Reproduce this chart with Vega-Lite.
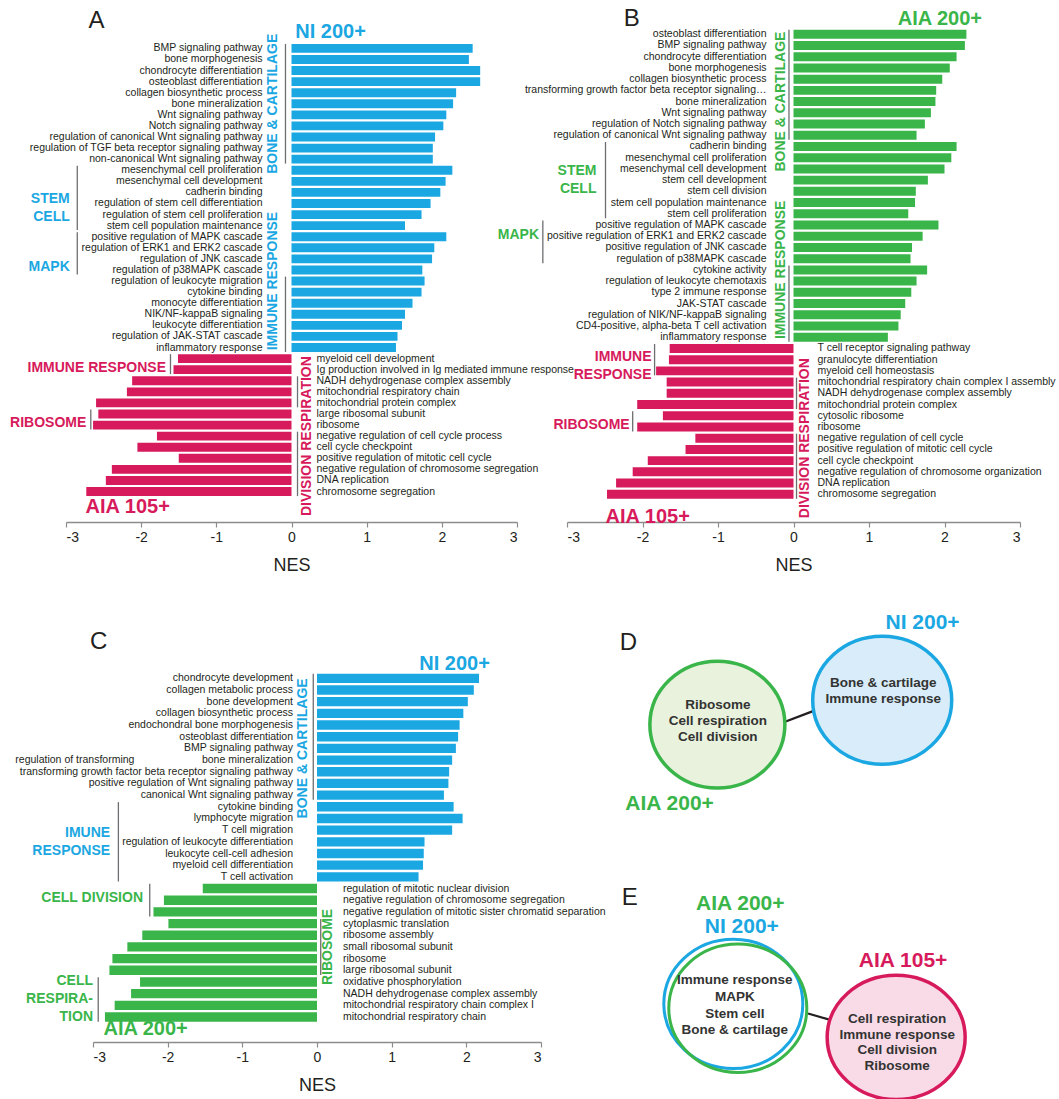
{
"$schema":"https://vega.github.io/schema/vega-lite/v6.json",
"background":"white",
"padding":{"left":10,"top":7,"right":0,"bottom":0},
"config":{"view":{"stroke":null},"font":"Liberation Sans","axisY":{"disable":true},
 "axis":{"domainColor":"#8c8c8c","domainWidth":1.5,"tickColor":"#8c8c8c","tickSize":5,"tickWidth":1.2,"labelFontSize":14,"labelColor":"#231f20","titleFontSize":18,"titleFontWeight":"normal","titleColor":"#231f20","grid":false,"labelPadding":3,"titlePadding":12}},
"datasets":{
"A":[
{"i":1,"term":"BMP signaling pathway","nes":2.41,"set":"NI 200+"},
{"i":2,"term":"bone morphogenesis","nes":2.36,"set":"NI 200+"},
{"i":3,"term":"chondrocyte differentiation","nes":2.51,"set":"NI 200+"},
{"i":4,"term":"osteoblast differentiation","nes":2.51,"set":"NI 200+"},
{"i":5,"term":"collagen biosynthetic process","nes":2.19,"set":"NI 200+"},
{"i":6,"term":"bone mineralization","nes":2.15,"set":"NI 200+"},
{"i":7,"term":"Wnt signaling pathway","nes":2.06,"set":"NI 200+"},
{"i":8,"term":"Notch signaling pathway","nes":2.02,"set":"NI 200+"},
{"i":9,"term":"regulation of canonical Wnt signaling pathway","nes":1.91,"set":"NI 200+"},
{"i":10,"term":"regulation of TGF beta receptor signaling pathway","nes":1.88,"set":"NI 200+"},
{"i":11,"term":"non-canonical Wnt signaling pathway","nes":1.88,"set":"NI 200+"},
{"i":12,"term":"mesenchymal cell proliferation","nes":2.14,"set":"NI 200+"},
{"i":13,"term":"mesenchymal cell development","nes":2.05,"set":"NI 200+"},
{"i":14,"term":"cadherin binding","nes":1.98,"set":"NI 200+"},
{"i":15,"term":"regulation of stem cell differentiation","nes":1.85,"set":"NI 200+"},
{"i":16,"term":"regulation of stem cell proliferation","nes":1.73,"set":"NI 200+"},
{"i":17,"term":"stem cell population maintenance","nes":1.51,"set":"NI 200+"},
{"i":18,"term":"positive regulation of MAPK cascade","nes":2.06,"set":"NI 200+"},
{"i":19,"term":"regulation of ERK1 and ERK2 cascade","nes":1.90,"set":"NI 200+"},
{"i":20,"term":"regulation of JNK cascade","nes":1.87,"set":"NI 200+"},
{"i":21,"term":"regulation of p38MAPK cascade","nes":1.74,"set":"NI 200+"},
{"i":22,"term":"regulation of leukocyte migration","nes":1.77,"set":"NI 200+"},
{"i":23,"term":"cytokine binding","nes":1.73,"set":"NI 200+"},
{"i":24,"term":"monocyte differentiation","nes":1.61,"set":"NI 200+"},
{"i":25,"term":"NIK/NF-kappaB signaling","nes":1.51,"set":"NI 200+"},
{"i":26,"term":"leukocyte differentiation","nes":1.47,"set":"NI 200+"},
{"i":27,"term":"regulation of JAK-STAT cascade","nes":1.41,"set":"NI 200+"},
{"i":28,"term":"inflammatory response","nes":1.39,"set":"NI 200+"},
{"i":29,"term":"myeloid cell development","nes":-1.51,"set":"AIA 105+"},
{"i":30,"term":"Ig production involved in Ig mediated immune response","nes":-1.57,"set":"AIA 105+"},
{"i":31,"term":"NADH dehydrogenase complex assembly","nes":-2.12,"set":"AIA 105+"},
{"i":32,"term":"mitochondrial respiratory chain","nes":-2.19,"set":"AIA 105+"},
{"i":33,"term":"mitochondrial protein complex","nes":-2.60,"set":"AIA 105+"},
{"i":34,"term":"large ribosomal subunit","nes":-2.57,"set":"AIA 105+"},
{"i":35,"term":"ribosome","nes":-2.64,"set":"AIA 105+"},
{"i":36,"term":"negative regulation of cell cycle process","nes":-1.79,"set":"AIA 105+"},
{"i":37,"term":"cell cycle checkpoint","nes":-2.05,"set":"AIA 105+"},
{"i":38,"term":"positive regulation of mitotic cell cycle","nes":-1.50,"set":"AIA 105+"},
{"i":39,"term":"negative regulation of chromosome segregation","nes":-2.39,"set":"AIA 105+"},
{"i":40,"term":"DNA replication","nes":-2.47,"set":"AIA 105+"},
{"i":41,"term":"chromosome segregation","nes":-2.73,"set":"AIA 105+"}
],
"B":[
{"i":1,"term":"osteoblast differentiation","nes":2.29,"set":"AIA 200+"},
{"i":2,"term":"BMP signaling pathway","nes":2.27,"set":"AIA 200+"},
{"i":3,"term":"chondrocyte differentiation","nes":2.16,"set":"AIA 200+"},
{"i":4,"term":"bone morphogenesis","nes":2.07,"set":"AIA 200+"},
{"i":5,"term":"collagen biosynthetic process","nes":1.97,"set":"AIA 200+"},
{"i":6,"term":"transforming growth factor beta receptor signaling…","nes":1.89,"set":"AIA 200+"},
{"i":7,"term":"bone mineralization","nes":1.88,"set":"AIA 200+"},
{"i":8,"term":"Wnt signaling pathway","nes":1.82,"set":"AIA 200+"},
{"i":9,"term":"regulation of Notch signaling pathway","nes":1.74,"set":"AIA 200+"},
{"i":10,"term":"regulation of canonical Wnt signaling pathway","nes":1.63,"set":"AIA 200+"},
{"i":11,"term":"cadherin binding","nes":2.16,"set":"AIA 200+"},
{"i":12,"term":"mesenchymal cell proliferation","nes":2.09,"set":"AIA 200+"},
{"i":13,"term":"mesenchymal cell development","nes":2.00,"set":"AIA 200+"},
{"i":14,"term":"stem cell development","nes":1.78,"set":"AIA 200+"},
{"i":15,"term":"stem cell division","nes":1.62,"set":"AIA 200+"},
{"i":16,"term":"stem cell population maintenance","nes":1.61,"set":"AIA 200+"},
{"i":17,"term":"stem cell proliferation","nes":1.52,"set":"AIA 200+"},
{"i":18,"term":"positive regulation of MAPK cascade","nes":1.92,"set":"AIA 200+"},
{"i":19,"term":"positive regulation of ERK1 and ERK2 cascade","nes":1.71,"set":"AIA 200+"},
{"i":20,"term":"positive regulation of JNK cascade","nes":1.57,"set":"AIA 200+"},
{"i":21,"term":"regulation of p38MAPK cascade","nes":1.55,"set":"AIA 200+"},
{"i":22,"term":"cytokine activity","nes":1.77,"set":"AIA 200+"},
{"i":23,"term":"regulation of leukocyte chemotaxis","nes":1.63,"set":"AIA 200+"},
{"i":24,"term":"type 2 immune response","nes":1.56,"set":"AIA 200+"},
{"i":25,"term":"JAK-STAT cascade","nes":1.48,"set":"AIA 200+"},
{"i":26,"term":"regulation of NIK/NF-kappaB signaling","nes":1.42,"set":"AIA 200+"},
{"i":27,"term":"CD4-positive, alpha-beta T cell activation","nes":1.39,"set":"AIA 200+"},
{"i":28,"term":"inflammatory response","nes":1.25,"set":"AIA 200+"},
{"i":29,"term":"T cell receptor signaling pathway","nes":-1.64,"set":"AIA 105+"},
{"i":30,"term":"granulocyte differentiation","nes":-1.65,"set":"AIA 105+"},
{"i":31,"term":"myeloid cell homeostasis","nes":-1.82,"set":"AIA 105+"},
{"i":32,"term":"mitochondrial respiratory chain complex I assembly","nes":-1.68,"set":"AIA 105+"},
{"i":33,"term":"NADH dehydrogenase complex assembly","nes":-1.68,"set":"AIA 105+"},
{"i":34,"term":"mitochondrial protein complex","nes":-2.07,"set":"AIA 105+"},
{"i":35,"term":"cytosolic ribosome","nes":-1.73,"set":"AIA 105+"},
{"i":36,"term":"ribosome","nes":-2.07,"set":"AIA 105+"},
{"i":37,"term":"negative regulation of cell cycle","nes":-1.30,"set":"AIA 105+"},
{"i":38,"term":"positive regulation of mitotic cell cycle","nes":-1.43,"set":"AIA 105+"},
{"i":39,"term":"cell cycle checkpoint","nes":-1.93,"set":"AIA 105+"},
{"i":40,"term":"negative regulation of chromosome organization","nes":-2.13,"set":"AIA 105+"},
{"i":41,"term":"DNA replication","nes":-2.35,"set":"AIA 105+"},
{"i":42,"term":"chromosome segregation","nes":-2.47,"set":"AIA 105+"}
],
"C":[
{"i":1,"term":"chondrocyte development","nes":2.17,"set":"NI 200+"},
{"i":2,"term":"collagen metabolic process","nes":2.10,"set":"NI 200+"},
{"i":3,"term":"bone development","nes":2.02,"set":"NI 200+"},
{"i":4,"term":"collagen biosynthetic process","nes":1.96,"set":"NI 200+"},
{"i":5,"term":"endochondral bone morphogenesis","nes":1.91,"set":"NI 200+"},
{"i":6,"term":"osteoblast differentiation","nes":1.89,"set":"NI 200+"},
{"i":7,"term":"BMP signaling pathway","nes":1.86,"set":"NI 200+"},
{"i":8,"term":"bone mineralization","nes":1.81,"set":"NI 200+"},
{"i":9,"term":"transforming growth factor beta receptor signaling pathway","nes":1.77,"set":"NI 200+"},
{"i":10,"term":"positive regulation of Wnt signaling pathway","nes":1.76,"set":"NI 200+"},
{"i":11,"term":"canonical Wnt signaling pathway","nes":1.70,"set":"NI 200+"},
{"i":12,"term":"cytokine binding","nes":1.83,"set":"NI 200+"},
{"i":13,"term":"lymphocyte migration","nes":1.95,"set":"NI 200+"},
{"i":14,"term":"T cell migration","nes":1.81,"set":"NI 200+"},
{"i":15,"term":"regulation of leukocyte differentiation","nes":1.44,"set":"NI 200+"},
{"i":16,"term":"leukocyte cell-cell adhesion","nes":1.43,"set":"NI 200+"},
{"i":17,"term":"myeloid cell differentiation","nes":1.42,"set":"NI 200+"},
{"i":18,"term":"T cell activation","nes":1.36,"set":"NI 200+"},
{"i":19,"term":"regulation of mitotic nuclear division","nes":-1.53,"set":"AIA 200+"},
{"i":20,"term":"negative regulation of chromosome segregation","nes":-2.05,"set":"AIA 200+"},
{"i":21,"term":"negative regulation of mitotic sister chromatid separation","nes":-2.19,"set":"AIA 200+"},
{"i":22,"term":"cytoplasmic translation","nes":-1.99,"set":"AIA 200+"},
{"i":23,"term":"ribosome assembly","nes":-2.34,"set":"AIA 200+"},
{"i":24,"term":"small ribosomal subunit","nes":-2.54,"set":"AIA 200+"},
{"i":25,"term":"ribosome","nes":-2.74,"set":"AIA 200+"},
{"i":26,"term":"large ribosomal subunit","nes":-2.78,"set":"AIA 200+"},
{"i":27,"term":"oxidative phosphorylation","nes":-2.37,"set":"AIA 200+"},
{"i":28,"term":"NADH dehydrogenase complex assembly","nes":-2.49,"set":"AIA 200+"},
{"i":29,"term":"mitochondrial respiratory chain complex I","nes":-2.71,"set":"AIA 200+"},
{"i":30,"term":"mitochondrial respiratory chain","nes":-2.84,"set":"AIA 200+"}
]
},
"spacing":37,
"vconcat":[
{"hconcat":[
 {"width":451,"height":493,"data":{"name":"A"},
  "layer":[
   {"mark":{"type":"bar"},"encoding":{
     "y":{"field":"i","type":"ordinal","scale":{"domain":[0,1,2,3,4,5,6,7,8,9,10,11,12,13,14,15,16,17,18,19,20,21,22,23,24,25,26,27,28,29,30,31,32,33,34,35,36,37,38,39,40,41,42,43],"paddingInner":0.2,"paddingOuter":0.35},"axis":null},
     "x":{"field":"nes","type":"quantitative","scale":{"domain":[-3,3],"nice":false},"axis":{"values":[-3,-2,-1,0,1,2,3],"title":"NES","labelExpr":"'' + datum.value"}},
     "color":{"field":"set","type":"nominal","scale":{"domain":["NI 200+","AIA 200+","AIA 105+"],"range":["#1ba7e2","#3ab54a","#d71a5b"]},"legend":null}}},
   {"transform":[{"filter":"datum.nes > 0"}],"mark":{"type":"text","align":"right","baseline":"middle","dx":-29,"fontSize":10.5,"color":"#231f20"},"encoding":{"y":{"field":"i","type":"ordinal"},"x":{"datum":0,"type":"quantitative"},"text":{"field":"term"}}},
   {"transform":[{"filter":"datum.nes < 0"}],"mark":{"type":"text","align":"left","baseline":"middle","dx":25,"fontSize":10.5,"color":"#231f20"},"encoding":{"y":{"field":"i","type":"ordinal"},"x":{"datum":0,"type":"quantitative"},"text":{"field":"term"}}},
   {"data":{"values":[{}]},"mark":{"type":"text","text":"A","align":"left","baseline":"middle","dy":-16,"fontSize":24,"color":"#231f20"},"encoding":{"x":{"datum":-2.7,"type":"quantitative"},"y":{"datum":0,"type":"ordinal"}}},
   {"data":{"values":[{}]},"mark":{"type":"text","text":"NI 200+","align":"left","baseline":"middle","dy":-16,"fontSize":20,"fontWeight":"bold","color":"#1ba7e2"},"encoding":{"x":{"datum":0.05,"type":"quantitative"},"y":{"datum":1,"type":"ordinal"}}},
   {"data":{"values":[{}]},"mark":{"type":"text","text":"BONE & CARTILAGE","angle":270,"align":"center","baseline":"middle","fontSize":14,"fontWeight":"bold","color":"#1ba7e2"},"encoding":{"x":{"datum":-0.25,"type":"quantitative"},"y":{"datum":6,"type":"ordinal"}}},
   {"data":{"values":[{}]},"mark":{"type":"rule","color":"#6d6e71","strokeWidth":1.3},"encoding":{"x":{"datum":-0.08,"type":"quantitative"},"y":{"datum":1,"type":"ordinal","bandPosition":0},"y2":{"datum":11,"bandPosition":1}}},
   {"data":{"values":[{}]},"mark":{"type":"text","text":"IMMUNE RESPONSE","angle":270,"align":"center","baseline":"middle","fontSize":14,"fontWeight":"bold","color":"#1ba7e2"},"encoding":{"x":{"datum":-0.25,"type":"quantitative"},"y":{"datum":22,"type":"ordinal"}}},
   {"data":{"values":[{}]},"mark":{"type":"rule","color":"#6d6e71","strokeWidth":1.3},"encoding":{"x":{"datum":-0.08,"type":"quantitative"},"y":{"datum":22,"type":"ordinal","bandPosition":0},"y2":{"datum":28,"bandPosition":1}}},
   {"data":{"values":[{}]},"mark":{"type":"text","text":["STEM","CELL"],"align":"right","baseline":"middle","lineHeight":18,"dy":-4,"fontSize":14,"fontWeight":"bold","color":"#1ba7e2"},"encoding":{"x":{"datum":-2.95,"type":"quantitative"},"y":{"datum":15,"type":"ordinal"}}},
   {"data":{"values":[{}]},"mark":{"type":"rule","color":"#6d6e71","strokeWidth":1.3},"encoding":{"x":{"datum":-2.85,"type":"quantitative"},"y":{"datum":12,"type":"ordinal","bandPosition":0},"y2":{"datum":17,"bandPosition":1}}},
   {"data":{"values":[{}]},"mark":{"type":"text","text":"MAPK","align":"right","baseline":"middle","dy":-3,"fontSize":14,"fontWeight":"bold","color":"#1ba7e2"},"encoding":{"x":{"datum":-2.95,"type":"quantitative"},"y":{"datum":21,"type":"ordinal"}}},
   {"data":{"values":[{}]},"mark":{"type":"rule","color":"#6d6e71","strokeWidth":1.3},"encoding":{"x":{"datum":-2.85,"type":"quantitative"},"y":{"datum":18,"type":"ordinal","bandPosition":0},"y2":{"datum":21,"bandPosition":1}}},
   {"data":{"values":[{}]},"mark":{"type":"text","text":"IMMUNE RESPONSE","align":"right","baseline":"middle","dy":-2,"fontSize":14,"fontWeight":"bold","color":"#d71a5b"},"encoding":{"x":{"datum":-1.67,"type":"quantitative"},"y":{"datum":30,"type":"ordinal"}}},
   {"data":{"values":[{}]},"mark":{"type":"rule","color":"#6d6e71","strokeWidth":1.3},"encoding":{"x":{"datum":-1.61,"type":"quantitative"},"y":{"datum":29,"type":"ordinal","bandPosition":0},"y2":{"datum":30,"bandPosition":1}}},
   {"data":{"values":[{}]},"mark":{"type":"text","text":"RIBOSOME","align":"right","baseline":"middle","dy":-2,"fontSize":14,"fontWeight":"bold","color":"#d71a5b"},"encoding":{"x":{"datum":-2.73,"type":"quantitative"},"y":{"datum":35,"type":"ordinal"}}},
   {"data":{"values":[{}]},"mark":{"type":"rule","color":"#6d6e71","strokeWidth":1.3},"encoding":{"x":{"datum":-2.67,"type":"quantitative"},"y":{"datum":34,"type":"ordinal","bandPosition":0},"y2":{"datum":35,"bandPosition":1}}},
   {"data":{"values":[{}]},"mark":{"type":"text","text":"DIVISION RESPIRATION","angle":270,"align":"center","baseline":"middle","fontSize":14,"fontWeight":"bold","color":"#d71a5b"},"encoding":{"x":{"datum":0.21,"type":"quantitative"},"y":{"datum":36,"type":"ordinal"}}},
   {"data":{"values":[{}]},"mark":{"type":"rule","color":"#6d6e71","strokeWidth":1.3},"encoding":{"x":{"datum":0.08,"type":"quantitative"},"y":{"datum":31,"type":"ordinal","bandPosition":0},"y2":{"datum":33,"bandPosition":1}}},
   {"data":{"values":[{}]},"mark":{"type":"rule","color":"#6d6e71","strokeWidth":1.3},"encoding":{"x":{"datum":0.08,"type":"quantitative"},"y":{"datum":36,"type":"ordinal","bandPosition":0},"y2":{"datum":41,"bandPosition":1}}},
   {"data":{"values":[{}]},"mark":{"type":"text","text":"AIA 105+","align":"left","baseline":"middle","dy":4,"fontSize":20,"fontWeight":"bold","color":"#d71a5b"},"encoding":{"x":{"datum":-2.74,"type":"quantitative"},"y":{"datum":42,"type":"ordinal"}}}
  ]},
 {"width":453,"height":493,"data":{"name":"B"},
  "layer":[
   {"mark":{"type":"bar"},"encoding":{
     "y":{"field":"i","type":"ordinal","scale":{"domain":[1,2,3,4,5,6,7,8,9,10,11,12,13,14,15,16,17,18,19,20,21,22,23,24,25,26,27,28,29,30,31,32,33,34,35,36,37,38,39,40,41,42,43,44],"paddingInner":0.2,"paddingOuter":0.07},"axis":null},
     "x":{"field":"nes","type":"quantitative","scale":{"domain":[-3,3],"nice":false},"axis":{"values":[-3,-2,-1,0,1,2,3],"title":"NES","labelExpr":"'' + datum.value"}},
     "color":{"field":"set","type":"nominal","scale":{"domain":["NI 200+","AIA 200+","AIA 105+"],"range":["#1ba7e2","#3ab54a","#d71a5b"]},"legend":null}}},
   {"transform":[{"filter":"datum.nes > 0"}],"mark":{"type":"text","align":"right","baseline":"middle","dx":-27,"fontSize":10.5,"color":"#231f20"},"encoding":{"y":{"field":"i","type":"ordinal"},"x":{"datum":0,"type":"quantitative"},"text":{"field":"term"}}},
   {"transform":[{"filter":"datum.nes < 0"}],"mark":{"type":"text","align":"left","baseline":"middle","dx":24,"fontSize":10.5,"color":"#231f20"},"encoding":{"y":{"field":"i","type":"ordinal"},"x":{"datum":0,"type":"quantitative"},"text":{"field":"term"}}},
   {"data":{"values":[{}]},"mark":{"type":"text","text":"B","align":"left","baseline":"middle","dy":-15,"fontSize":24,"color":"#231f20"},"encoding":{"x":{"datum":-2.25,"type":"quantitative"},"y":{"datum":1,"type":"ordinal"}}},
   {"data":{"values":[{}]},"mark":{"type":"text","text":"AIA 200+","align":"left","baseline":"middle","dy":-15,"fontSize":20,"fontWeight":"bold","color":"#3ab54a"},"encoding":{"x":{"datum":1.38,"type":"quantitative"},"y":{"datum":1,"type":"ordinal"}}},
   {"data":{"values":[{}]},"mark":{"type":"text","text":"BONE & CARTILAGE","angle":270,"align":"center","baseline":"middle","fontSize":14,"fontWeight":"bold","color":"#3ab54a"},"encoding":{"x":{"datum":-0.17,"type":"quantitative"},"y":{"datum":7,"type":"ordinal"}}},
   {"data":{"values":[{}]},"mark":{"type":"rule","color":"#6d6e71","strokeWidth":1.3},"encoding":{"x":{"datum":-0.06,"type":"quantitative"},"y":{"datum":1,"type":"ordinal","bandPosition":0},"y2":{"datum":10,"bandPosition":1}}},
   {"data":{"values":[{}]},"mark":{"type":"text","text":"IMMUNE RESPONSE","angle":270,"align":"center","baseline":"middle","fontSize":14,"fontWeight":"bold","color":"#3ab54a"},"encoding":{"x":{"datum":-0.17,"type":"quantitative"},"y":{"datum":22,"type":"ordinal"}}},
   {"data":{"values":[{}]},"mark":{"type":"rule","color":"#6d6e71","strokeWidth":1.3},"encoding":{"x":{"datum":-0.06,"type":"quantitative"},"y":{"datum":22,"type":"ordinal","bandPosition":0},"y2":{"datum":28,"bandPosition":1}}},
   {"data":{"values":[{}]},"mark":{"type":"text","text":["STEM","CELL"],"align":"right","baseline":"middle","lineHeight":18,"dy":-9,"fontSize":14,"fontWeight":"bold","color":"#3ab54a"},"encoding":{"x":{"datum":-2.61,"type":"quantitative"},"y":{"datum":14,"type":"ordinal"}}},
   {"data":{"values":[{}]},"mark":{"type":"rule","color":"#6d6e71","strokeWidth":1.3},"encoding":{"x":{"datum":-2.49,"type":"quantitative"},"y":{"datum":11,"type":"ordinal","bandPosition":0},"y2":{"datum":17,"bandPosition":1}}},
   {"data":{"values":[{}]},"mark":{"type":"text","text":"MAPK","align":"right","baseline":"middle","dy":-1,"fontSize":14,"fontWeight":"bold","color":"#3ab54a"},"encoding":{"x":{"datum":-3.37,"type":"quantitative"},"y":{"datum":19,"type":"ordinal"}}},
   {"data":{"values":[{}]},"mark":{"type":"rule","color":"#6d6e71","strokeWidth":1.3},"encoding":{"x":{"datum":-3.32,"type":"quantitative"},"y":{"datum":18,"type":"ordinal","bandPosition":0},"y2":{"datum":21,"bandPosition":1}}},
   {"data":{"values":[{}]},"mark":{"type":"text","text":["IMMUNE","RESPONSE"],"align":"right","baseline":"middle","lineHeight":18,"dy":-3,"fontSize":14,"fontWeight":"bold","color":"#d71a5b"},"encoding":{"x":{"datum":-1.88,"type":"quantitative"},"y":{"datum":30,"type":"ordinal"}}},
   {"data":{"values":[{}]},"mark":{"type":"rule","color":"#6d6e71","strokeWidth":1.3},"encoding":{"x":{"datum":-1.84,"type":"quantitative"},"y":{"datum":29,"type":"ordinal","bandPosition":0},"y2":{"datum":31,"bandPosition":1}}},
   {"data":{"values":[{}]},"mark":{"type":"text","text":"RIBOSOME","align":"right","baseline":"middle","dy":-2,"fontSize":14,"fontWeight":"bold","color":"#d71a5b"},"encoding":{"x":{"datum":-2.17,"type":"quantitative"},"y":{"datum":36,"type":"ordinal"}}},
   {"data":{"values":[{}]},"mark":{"type":"rule","color":"#6d6e71","strokeWidth":1.3},"encoding":{"x":{"datum":-2.13,"type":"quantitative"},"y":{"datum":35,"type":"ordinal","bandPosition":0},"y2":{"datum":36,"bandPosition":1}}},
   {"data":{"values":[{}]},"mark":{"type":"text","text":"DIVISION RESPIRATION","angle":270,"align":"center","baseline":"middle","fontSize":14,"fontWeight":"bold","color":"#d71a5b"},"encoding":{"x":{"datum":0.15,"type":"quantitative"},"y":{"datum":37,"type":"ordinal"}}},
   {"data":{"values":[{}]},"mark":{"type":"rule","color":"#6d6e71","strokeWidth":1.3},"encoding":{"x":{"datum":0.04,"type":"quantitative"},"y":{"datum":32,"type":"ordinal","bandPosition":0},"y2":{"datum":34,"bandPosition":1}}},
   {"data":{"values":[{}]},"mark":{"type":"rule","color":"#6d6e71","strokeWidth":1.3},"encoding":{"x":{"datum":0.04,"type":"quantitative"},"y":{"datum":37,"type":"ordinal","bandPosition":0},"y2":{"datum":42,"bandPosition":1}}},
   {"data":{"values":[{}]},"mark":{"type":"text","text":"AIA 105+","align":"left","baseline":"middle","fontSize":20,"fontWeight":"bold","color":"#d71a5b"},"encoding":{"x":{"datum":-2.49,"type":"quantitative"},"y":{"datum":44,"type":"ordinal"}}}
  ]}
 ],"spacing":50,"bounds":"flush"},
{"hconcat":[
 {"width":7,"height":10,"data":{"values":[]},"mark":"point"},
 {"width":448,"height":377,"data":{"name":"C"},
  "layer":[
   {"mark":{"type":"bar"},"encoding":{
     "y":{"field":"i","type":"ordinal","scale":{"domain":[1,2,3,4,5,6,7,8,9,10,11,12,13,14,15,16,17,18,19,20,21,22,23,24,25,26,27,28,29,30,31],"paddingInner":0.2,"paddingOuter":0.74},"axis":null},
     "x":{"field":"nes","type":"quantitative","scale":{"domain":[-3,3],"nice":false},"axis":{"values":[-3,-2,-1,0,1,2,3],"title":"NES","labelExpr":"'' + datum.value"}},
     "color":{"field":"set","type":"nominal","scale":{"domain":["NI 200+","AIA 200+","AIA 105+"],"range":["#1ba7e2","#3ab54a","#d71a5b"]},"legend":null}}},
   {"transform":[{"filter":"datum.nes > 0"}],"mark":{"type":"text","align":"right","baseline":"middle","dx":-24,"fontSize":10.5,"color":"#231f20"},"encoding":{"y":{"field":"i","type":"ordinal"},"x":{"datum":0,"type":"quantitative"},"text":{"field":"term"}}},
   {"transform":[{"filter":"datum.nes < 0"}],"mark":{"type":"text","align":"left","baseline":"middle","dx":26,"fontSize":10.5,"color":"#231f20"},"encoding":{"y":{"field":"i","type":"ordinal"},"x":{"datum":0,"type":"quantitative"},"text":{"field":"term"}}},
   {"data":{"values":[{}]},"mark":{"type":"text","text":"C","align":"left","baseline":"middle","dy":-36,"fontSize":24,"color":"#231f20"},"encoding":{"x":{"datum":-3.04,"type":"quantitative"},"y":{"datum":1,"type":"ordinal"}}},
   {"data":{"values":[{}]},"mark":{"type":"text","text":"NI 200+","align":"left","baseline":"middle","dy":-14,"fontSize":20,"fontWeight":"bold","color":"#1ba7e2"},"encoding":{"x":{"datum":1.37,"type":"quantitative"},"y":{"datum":1,"type":"ordinal"}}},
   {"data":{"values":[{}]},"mark":{"type":"text","text":"BONE & CARTILAGE","angle":270,"align":"center","baseline":"middle","fontSize":14,"fontWeight":"bold","color":"#1ba7e2"},"encoding":{"x":{"datum":-0.19,"type":"quantitative"},"y":{"datum":7,"type":"ordinal"}}},
   {"data":{"values":[{}]},"mark":{"type":"rule","color":"#6d6e71","strokeWidth":1.3},"encoding":{"x":{"datum":-0.05,"type":"quantitative"},"y":{"datum":1,"type":"ordinal","bandPosition":0},"y2":{"datum":11,"bandPosition":1}}},
   {"data":{"values":[{}]},"mark":{"type":"text","text":"regulation of transforming","align":"left","baseline":"middle","fontSize":10.5,"color":"#231f20"},"encoding":{"x":{"datum":-4.04,"type":"quantitative"},"y":{"datum":8,"type":"ordinal"}}},
   {"data":{"values":[{}]},"mark":{"type":"text","text":["IMUNE","RESPONSE"],"align":"right","baseline":"middle","lineHeight":18,"dy":-9,"fontSize":14,"fontWeight":"bold","color":"#1ba7e2"},"encoding":{"x":{"datum":-2.77,"type":"quantitative"},"y":{"datum":15,"type":"ordinal"}}},
   {"data":{"values":[{}]},"mark":{"type":"rule","color":"#6d6e71","strokeWidth":1.3},"encoding":{"x":{"datum":-2.66,"type":"quantitative"},"y":{"datum":12,"type":"ordinal","bandPosition":0},"y2":{"datum":18,"bandPosition":1}}},
   {"data":{"values":[{}]},"mark":{"type":"text","text":"CELL DIVISION","align":"right","baseline":"middle","dy":-2,"fontSize":14,"fontWeight":"bold","color":"#3ab54a"},"encoding":{"x":{"datum":-2.33,"type":"quantitative"},"y":{"datum":20,"type":"ordinal"}}},
   {"data":{"values":[{}]},"mark":{"type":"rule","color":"#6d6e71","strokeWidth":1.3},"encoding":{"x":{"datum":-2.24,"type":"quantitative"},"y":{"datum":19,"type":"ordinal","bandPosition":0},"y2":{"datum":21,"bandPosition":1}}},
   {"data":{"values":[{}]},"mark":{"type":"text","text":"RIBOSOME","angle":270,"align":"center","baseline":"middle","fontSize":14,"fontWeight":"bold","color":"#3ab54a"},"encoding":{"x":{"datum":0.15,"type":"quantitative"},"y":{"datum":24,"type":"ordinal"}}},
   {"data":{"values":[{}]},"mark":{"type":"rule","color":"#6d6e71","strokeWidth":1.3},"encoding":{"x":{"datum":0.05,"type":"quantitative"},"y":{"datum":22,"type":"ordinal","bandPosition":0},"y2":{"datum":26,"bandPosition":1}}},
   {"data":{"values":[{}]},"mark":{"type":"text","text":["CELL","RESPIRA-","TION"],"align":"right","baseline":"middle","lineHeight":18,"dy":-1,"fontSize":14,"fontWeight":"bold","color":"#3ab54a"},"encoding":{"x":{"datum":-3.0,"type":"quantitative"},"y":{"datum":27,"type":"ordinal"}}},
   {"data":{"values":[{}]},"mark":{"type":"rule","color":"#6d6e71","strokeWidth":1.3},"encoding":{"x":{"datum":-2.93,"type":"quantitative"},"y":{"datum":27,"type":"ordinal","bandPosition":0},"y2":{"datum":30,"bandPosition":1}}},
   {"data":{"values":[{}]},"mark":{"type":"text","text":"AIA 200+","align":"left","baseline":"middle","fontSize":20,"fontWeight":"bold","color":"#3ab54a"},"encoding":{"x":{"datum":-2.86,"type":"quantitative"},"y":{"datum":31,"type":"ordinal"}}}
  ]},
 {"width":498,"height":435,
  "layer":[
   {"data":{"values":[{}]},"mark":{"type":"text","text":"D","align":"left","baseline":"middle","fontSize":24,"color":"#231f20"},"encoding":{"x":{"datum":11.8,"type":"quantitative","scale":{"domain":[0,100],"nice":false,"zero":false},"axis":null},"y":{"datum":105.1,"type":"quantitative","scale":{"domain":[0,100],"nice":false,"zero":false},"axis":null}}},
   {"data":{"values":[{}]},"mark":{"type":"rule","color":"#231f20","strokeWidth":2.2},"encoding":{"x":{"datum":44.6,"type":"quantitative","axis":null},"y":{"datum":86.8,"type":"quantitative","axis":null},"x2":{"datum":50.6},"y2":{"datum":89.4}}},
   {"data":{"values":[{}]},"mark":{"type":"point","shape":"M-1,0A1,0.94,0,1,1,1,0A1,0.94,0,1,1,-1,0Z","size":18225,"filled":true,"fill":"#e9f2dc","fillOpacity":1,"stroke":"#3ab54a","strokeWidth":3.5,"opacity":1},"encoding":{"x":{"datum":31.4,"type":"quantitative","axis":null},"y":{"datum":86.3,"type":"quantitative","axis":null}}},
   {"data":{"values":[{}]},"mark":{"type":"point","shape":"M-1,0A1,0.92,0,1,1,1,0A1,0.92,0,1,1,-1,0Z","size":19321,"filled":true,"fill":"#d8edf9","fillOpacity":1,"stroke":"#1ba7e2","strokeWidth":3.5,"opacity":1},"encoding":{"x":{"datum":64.5,"type":"quantitative","axis":null},"y":{"datum":91.9,"type":"quantitative","axis":null}}},
   {"data":{"values":[{}]},"mark":{"type":"text","text":["Ribosome","Cell respiration","Cell division"],"align":"center","baseline":"middle","lineHeight":16,"fontSize":13.5,"fontWeight":"bold","color":"#333333"},"encoding":{"x":{"datum":31.5,"type":"quantitative","axis":null},"y":{"datum":90.7,"type":"quantitative","axis":null}}},
   {"data":{"values":[{}]},"mark":{"type":"text","text":["Bone & cartilage","Immune response"],"align":"center","baseline":"middle","lineHeight":16,"fontSize":13.5,"fontWeight":"bold","color":"#333333"},"encoding":{"x":{"datum":64.7,"type":"quantitative","axis":null},"y":{"datum":95.8,"type":"quantitative","axis":null}}},
   {"data":{"values":[{}]},"mark":{"type":"text","text":"NI 200+","align":"center","baseline":"middle","fontSize":21,"fontWeight":"bold","color":"#1ba7e2"},"encoding":{"x":{"datum":72.6,"type":"quantitative","axis":null},"y":{"datum":109.7,"type":"quantitative","axis":null}}},
   {"data":{"values":[{}]},"mark":{"type":"text","text":"AIA 200+","align":"center","baseline":"middle","fontSize":21,"fontWeight":"bold","color":"#3ab54a"},"encoding":{"x":{"datum":21.8,"type":"quantitative","axis":null},"y":{"datum":68.0,"type":"quantitative","axis":null}}},
   {"data":{"values":[{}]},"mark":{"type":"text","text":"E","align":"left","baseline":"middle","fontSize":24,"color":"#231f20"},"encoding":{"x":{"datum":12.2,"type":"quantitative","axis":null},"y":{"datum":46.4,"type":"quantitative","axis":null}}},
   {"data":{"values":[{}]},"mark":{"type":"rule","color":"#231f20","strokeWidth":2.2},"encoding":{"x":{"datum":49.6,"type":"quantitative","axis":null},"y":{"datum":19.9,"type":"quantitative","axis":null},"x2":{"datum":54.4},"y2":{"datum":18.3}}},
   {"data":{"values":[{}]},"mark":{"type":"point","shape":"M-1,0A1,0.93,0,1,1,1,0A1,0.93,0,1,1,-1,0Z","size":19321,"filled":true,"fill":"#ffffff","fillOpacity":1,"stroke":"#1ba7e2","strokeWidth":3,"opacity":1},"encoding":{"x":{"datum":34.6,"type":"quantitative","axis":null},"y":{"datum":22.1,"type":"quantitative","axis":null}}},
   {"data":{"values":[{}]},"mark":{"type":"point","shape":"M-1,0A1,0.93,0,1,1,1,0A1,0.93,0,1,1,-1,0Z","size":19044,"filled":false,"stroke":"#3ab54a","strokeWidth":3,"opacity":1},"encoding":{"x":{"datum":35.5,"type":"quantitative","axis":null},"y":{"datum":21.1,"type":"quantitative","axis":null}}},
   {"data":{"values":[{}]},"mark":{"type":"point","shape":"M-1,0A1,0.9,0,1,1,1,0A1,0.9,0,1,1,-1,0Z","size":19044,"filled":true,"fill":"#f8dbe6","fillOpacity":1,"stroke":"#d71a5b","strokeWidth":3.5,"opacity":1},"encoding":{"x":{"datum":67.3,"type":"quantitative","axis":null},"y":{"datum":14.4,"type":"quantitative","axis":null}}},
   {"data":{"values":[{}]},"mark":{"type":"text","text":["Immune response","MAPK","Stem cell","Bone & cartilage"],"align":"center","baseline":"middle","lineHeight":16.6,"fontSize":13.5,"fontWeight":"bold","color":"#333333"},"encoding":{"x":{"datum":34.9,"type":"quantitative","axis":null},"y":{"datum":27.5,"type":"quantitative","axis":null}}},
   {"data":{"values":[{}]},"mark":{"type":"text","text":["Cell respiration","Immune response","Cell division","Ribosome"],"align":"center","baseline":"middle","lineHeight":15.6,"fontSize":13.5,"fontWeight":"bold","color":"#333333"},"encoding":{"x":{"datum":67.5,"type":"quantitative","axis":null},"y":{"datum":18.6,"type":"quantitative","axis":null}}},
   {"data":{"values":[{}]},"mark":{"type":"text","text":"AIA 200+","align":"center","baseline":"middle","fontSize":21,"fontWeight":"bold","color":"#3ab54a"},"encoding":{"x":{"datum":36.0,"type":"quantitative","axis":null},"y":{"datum":45.0,"type":"quantitative","axis":null}}},
   {"data":{"values":[{}]},"mark":{"type":"text","text":"NI 200+","align":"center","baseline":"middle","fontSize":21,"fontWeight":"bold","color":"#1ba7e2"},"encoding":{"x":{"datum":36.3,"type":"quantitative","axis":null},"y":{"datum":39.7,"type":"quantitative","axis":null}}},
   {"data":{"values":[{}]},"mark":{"type":"text","text":"AIA 105+","align":"center","baseline":"middle","fontSize":21,"fontWeight":"bold","color":"#d71a5b"},"encoding":{"x":{"datum":68.7,"type":"quantitative","axis":null},"y":{"datum":31.9,"type":"quantitative","axis":null}}}
  ]}
 ],"spacing":20,"bounds":"flush"}
]
}
